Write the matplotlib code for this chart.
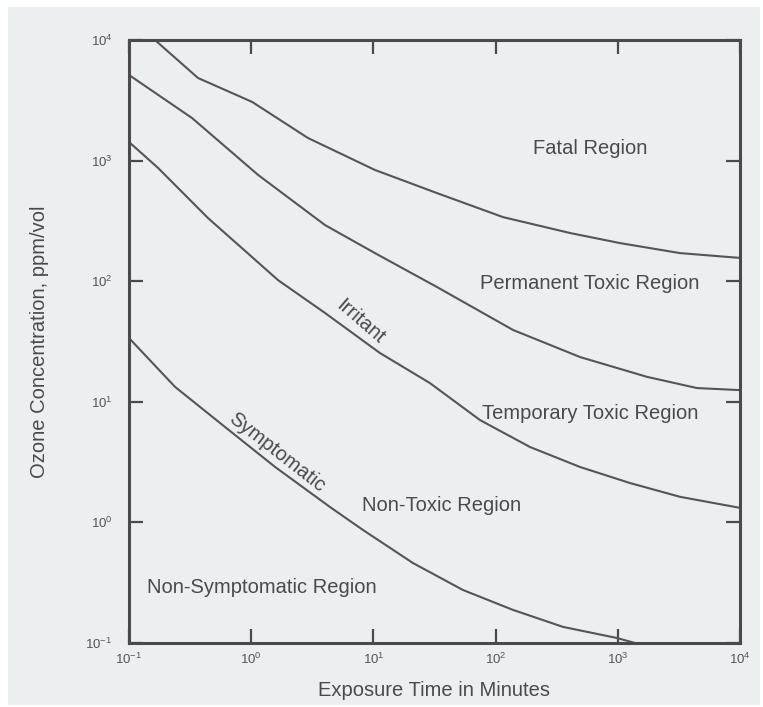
import matplotlib
matplotlib.use("Agg")
import matplotlib.pyplot as plt
from matplotlib.patches import Rectangle

plt.rcParams['font.family'] = ['Liberation Sans', 'DejaVu Sans']
plt.rcParams['mathtext.fontset'] = 'custom'
plt.rcParams['mathtext.rm'] = 'Liberation Sans'
plt.rcParams['mathtext.it'] = 'Liberation Sans:italic'
plt.rcParams['mathtext.bf'] = 'Liberation Sans:bold'

# ---- data (exposure time in minutes, ozone concentration ppm/vol) ----
fatal_time = [0.163, 0.367, 1.02, 2.92, 10.3, 33.1, 115, 406, 1042, 3228, 10000]
fatal_conc = [10000, 4842, 3062, 1538, 836, 538, 340, 251, 207, 171, 156]

perm_time = [0.1, 0.328, 1.14, 4.02, 10.3, 33.1, 139, 491, 1734, 4446, 10000]
perm_conc = [5129, 2254, 760, 292, 171, 89.5, 39.4, 23.5, 16.1, 13.0, 12.5]

irritant_time = [0.1, 0.173, 0.443, 1.66, 4.02, 11.3, 29.0, 74.5, 191, 491, 1259, 3228, 10000]
irritant_conc = [1426, 869, 334, 102, 54.5, 25.4, 14.3, 7.06, 4.22, 2.88, 2.12, 1.63, 1.32]

sympt_time = [0.1, 0.238, 0.611, 1.57, 4.42, 8.22, 21.1, 54.1, 139, 356, 984, 1384]
sympt_conc = [33.8, 13.3, 6.18, 2.88, 1.34, 0.865, 0.460, 0.275, 0.188, 0.136, 0.110, 0.1]

tick_values = [0.1, 1, 10, 100, 1000, 10000]
tick_labels = [r'$10^{-1}$', r'$10^{0}$', r'$10^{1}$', r'$10^{2}$', r'$10^{3}$', r'$10^{4}$']

region_labels = ["Fatal Region", "Permanent Toxic Region", "Temporary Toxic Region",
                 "Non-Toxic Region", "Non-Symptomatic Region"]
region_x = [593, 593, 593, 36.1, 1.22]
region_y = [1271, 94.8, 8.07, 1.37, 0.291]

curve_labels = ["Irritant", "Symptomatic"]
curve_label_x = [7.76, 1.63]
curve_label_y = [45.9, 3.84]
curve_label_rot = [-41, -38]

# ---- style ----
bg = '#eceff0'
line_c = '#555555'
spine_c = '#4a4a4a'
text_c = '#4a4a4a'
fs = 14.5

fig = plt.figure(figsize=(7.63, 7.07), dpi=100, facecolor='white')
fig.patches.append(Rectangle((8 / 763, 2 / 707), 752 / 763, 698 / 707,
                             transform=fig.transFigure, facecolor=bg,
                             edgecolor='none', zorder=-10))
ax = fig.add_axes([129 / 763, 64 / 707, 611 / 763, 603 / 707])
ax.set_facecolor('none')

ax.set_xscale('log')
ax.set_yscale('log')
ax.set_xlim(0.1, 10000)
ax.set_ylim(0.1, 10000)

for t, c in [(fatal_time, fatal_conc), (perm_time, perm_conc),
             (irritant_time, irritant_conc), (sympt_time, sympt_conc)]:
    ax.plot(t, c, color=line_c, lw=1.5, solid_capstyle='butt', clip_on=True)

for s in ax.spines.values():
    s.set_color(spine_c)
    s.set_linewidth(2.2)

ax.xaxis.set_minor_locator(matplotlib.ticker.NullLocator())
ax.yaxis.set_minor_locator(matplotlib.ticker.NullLocator())
ax.set_xticks(tick_values)
ax.set_xticklabels(tick_labels)
ax.set_yticks(tick_values)
ax.set_yticklabels(tick_labels)
ax.tick_params(which='major', direction='in', length=10, width=1.6, color=spine_c,
               top=True, right=True, labelsize=9.5, labelcolor='#555555')
ax.tick_params(axis='x', pad=6)
ax.tick_params(axis='y', pad=12)

ax.set_xlabel("Exposure Time in Minutes", fontsize=fs, color=text_c, va='center')
ax.xaxis.set_label_coords(0.5, (643 - 690) / 603)
ax.set_ylabel("Ozone Concentration, ppm/vol", fontsize=fs, color=text_c, va='center')
ax.yaxis.set_label_coords((40 - 129) / 611, 0.5)

for lab, x, y in zip(region_labels, region_x, region_y):
    ax.text(x, y, lab, fontsize=fs, color=text_c, ha='center', va='center')

for lab, x, y, r in zip(curve_labels, curve_label_x, curve_label_y, curve_label_rot):
    ax.text(x, y, lab, fontsize=fs, color=text_c, ha='center', va='center',
            rotation=r, rotation_mode='anchor')

fig.savefig('out.png', dpi=100, facecolor='white')
